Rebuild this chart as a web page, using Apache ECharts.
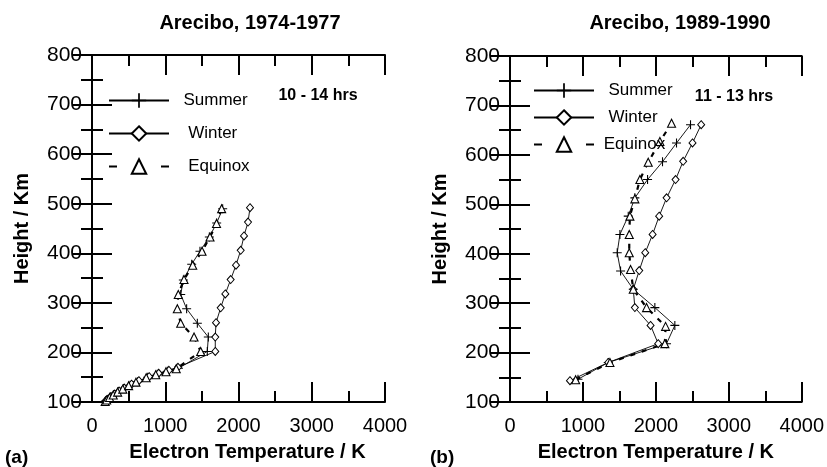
<!DOCTYPE html>
<html>
<head>
<meta charset="utf-8">
<script src="https://cdn.jsdelivr.net/npm/echarts@6.0.0/dist/echarts.min.js"></script>
<style>
  html, body { margin: 0; padding: 0; background: #fff; }
  #chart { width: 827px; height: 467px; }
</style>
</head>
<body>
<div id="chart"></div>
<script>
// (a) Arecibo 1974-1977, 10-14 hrs
const aSummerT = [185, 210, 250, 300, 360, 430, 520, 620, 760, 890, 1030, 1180, 1574, 1588, 1438, 1292, 1211, 1247, 1361, 1474, 1602, 1702, 1784];
const aSummerH = [102, 105, 110, 115, 121, 127, 134, 141, 150, 156, 162, 168, 202, 231, 259, 288, 317, 346, 378, 404, 433, 461, 490];
const aWinterT = [190, 220, 260, 310, 370, 440, 540, 640, 780, 910, 1050, 1174, 1683, 1683, 1693, 1757, 1820, 1893, 1966, 2030, 2075, 2130, 2157];
const aWinterH = [103, 106, 111, 116, 122, 128, 136, 143, 151, 158, 164, 170, 202, 231, 260, 290, 318, 347, 376, 406, 435, 463, 492];
const aEquinoxT = [180, 200, 240, 290, 350, 420, 500, 600, 740, 870, 1010, 1150, 1484, 1393, 1211, 1165, 1178, 1256, 1375, 1502, 1611, 1700, 1770];
const aEquinoxH = [101, 104, 109, 114, 120, 126, 133, 140, 149, 155, 161, 167, 202, 231, 259, 288, 317, 347, 376, 404, 433, 460, 490];

// (b) Arecibo 1989-1990, 11-13 hrs
const bSummerT = [932, 1347, 2146, 2260, 1986, 1690, 1516, 1470, 1507, 1621, 1712, 1886, 2091, 2283, 2475];
const bSummerH = [146, 180, 218, 255, 291, 328, 365, 402, 439, 476, 513, 550, 586, 624, 661];
const bWinterT = [822, 1347, 2032, 1927, 1712, 1690, 1772, 1854, 1955, 2045, 2147, 2270, 2374, 2502, 2621];
const bWinterH = [143, 180, 218, 255, 291, 328, 366, 402, 439, 476, 513, 550, 587, 624, 661];
const bEquinoxT = [900, 1370, 2123, 2133, 1872, 1690, 1653, 1635, 1635, 1644, 1712, 1781, 1895, 2055, 2215];
const bEquinoxH = [145, 180, 218, 253, 291, 328, 368, 402, 439, 476, 511, 550, 585, 627, 664];

const FONT = '"Liberation Sans", Arial, sans-serif';
const PLUS = 'path://M-0.12,-1H0.12V-0.12H1V0.12H0.12V1H-0.12V0.12H-1V-0.12H-0.12Z';

function zip(t, h) {
  return t.map((v, i) => [v, h[i]]);
}

function lineSeries(name, t, h, idx, kind) {
  const s = {
    name: name,
    type: 'line',
    xAxisIndex: idx * 2,
    yAxisIndex: idx * 2,
    data: zip(t, h),
    silent: true,
    lineStyle: { color: '#000', width: 0.9 },
  };
  if (kind === 'plus') {
    s.symbol = PLUS;
    s.symbolSize = 9;
    s.itemStyle = { color: '#000' };
  } else if (kind === 'diamond') {
    s.symbol = 'diamond';
    s.symbolSize = [7, 8];
    s.itemStyle = { color: '#fff', borderColor: '#000', borderWidth: 1 };
  } else {
    s.symbol = 'triangle';
    s.symbolSize = 8;
    s.itemStyle = { color: '#fff', borderColor: '#000', borderWidth: 1.1 };
    s.lineStyle = { color: '#000', width: 2.2, type: [5, 7] };
  }
  return s;
}

function xAxes(grid) {
  const common = {
    gridIndex: grid, type: 'value', min: 0, max: 4000, interval: 1000,
    axisLine: { show: true, lineStyle: { color: '#000', width: 2 } },
    axisTick: { show: true, inside: true, length: 20, lineStyle: { color: '#000', width: 2 } },
    minorTick: { show: true, splitNumber: 2, length: 11, lineStyle: { color: '#000', width: 2 } },
    splitLine: { show: false },
  };
  return [
    Object.assign({}, common, {
      position: 'bottom',
      axisLabel: { color: '#000', fontSize: 20, fontFamily: FONT, margin: 14, formatter: (v) => String(v) },
      name: 'Electron Temperature / K',
      nameLocation: 'middle',
      nameGap: 40,
      nameTextStyle: { color: '#000', fontSize: 20, fontWeight: 'bold', fontFamily: FONT,
        padding: grid === 0 ? [0, 0, 0, 18] : 0 },
    }),
    Object.assign({}, common, { position: 'top', axisLabel: { show: false } }),
  ];
}

function yAxes(grid) {
  const common = {
    gridIndex: grid, type: 'value', min: 100, max: 800, interval: 100,
    axisLine: { show: true, lineStyle: { color: '#000', width: 2 } },
    axisTick: { show: true, inside: true, length: 20, lineStyle: { color: '#000', width: 2 } },
    minorTick: { show: true, splitNumber: 2, length: 11, lineStyle: { color: '#000', width: 2 } },
    splitLine: { show: false },
  };
  return [
    Object.assign({}, common, {
      position: 'left',
      axisLabel: { color: '#000', fontSize: 21, fontFamily: FONT, margin: 10, formatter: (v) => String(v) },
      name: 'Height / Km',
      nameLocation: 'middle',
      nameGap: 60,
      nameTextStyle: { color: '#000', fontSize: 20, fontWeight: 'bold', fontFamily: FONT },
    }),
    Object.assign({}, common, { position: 'right', axisLabel: { show: false } }),
  ];
}

const pads = {
  a: { Summer: '  ', Winter: '   ', Equinox: '   ' },
  b: { Summer: '  ', Winter: '  ', Equinox: ' ' },
};

function legend(left, top, gap, key) {
  return {
    left: left, top: top, orient: 'vertical',
    itemWidth: 60, itemHeight: 18, itemGap: gap,
    selectedMode: false,
    data: [{ name: 'Summer' }, { name: 'Winter' }, { name: 'Equinox', lineStyle: { type: [8, 44] } }],
    formatter: (n) => pads[key][n] + n,
    textStyle: { color: '#000', fontSize: 17, fontFamily: FONT },
  };
}

function label(text, x, y, size, bold, align) {
  return {
    type: 'text', x: x, y: y, silent: true,
    style: {
      text: text, fill: '#000',
      font: (bold ? 'bold ' : '') + size + 'px ' + FONT,
      align: align || 'center', verticalAlign: 'middle',
      textAlign: align || 'center', textVerticalAlign: 'middle',
    },
  };
}

const chart = echarts.init(document.getElementById('chart'), null, { renderer: 'canvas' });
chart.setOption({
  animation: false,
  backgroundColor: '#fff',
  grid: [
    { left: 92, top: 55, width: 293, height: 348 },
    { left: 510, top: 56, width: 292, height: 347 },
  ],
  xAxis: xAxes(0).concat(xAxes(1)),
  yAxis: yAxes(0).concat(yAxes(1)),
  legend: [legend(103, 87, 16, 'a'), legend(528, 77, 10, 'b')],
  graphic: [
    label('Arecibo, 1974-1977', 250, 23, 20, true),
    label('Arecibo, 1989-1990', 680, 23, 20, true),
    label('10 - 14 hrs', 318, 96, 16, true),
    label('11 - 13 hrs', 734, 97, 16, true),
    label('(a)', 5, 458, 19, true, 'left'),
    label('(b)', 430, 458, 19, true, 'left'),
  ],
  series: [
    lineSeries('Summer', aSummerT, aSummerH, 0, 'plus'),
    lineSeries('Winter', aWinterT, aWinterH, 0, 'diamond'),
    lineSeries('Equinox', aEquinoxT, aEquinoxH, 0, 'triangle'),
    lineSeries('Summer', bSummerT, bSummerH, 1, 'plus'),
    lineSeries('Winter', bWinterT, bWinterH, 1, 'diamond'),
    lineSeries('Equinox', bEquinoxT, bEquinoxH, 1, 'triangle'),
  ],
});
</script>
</body>
</html>
